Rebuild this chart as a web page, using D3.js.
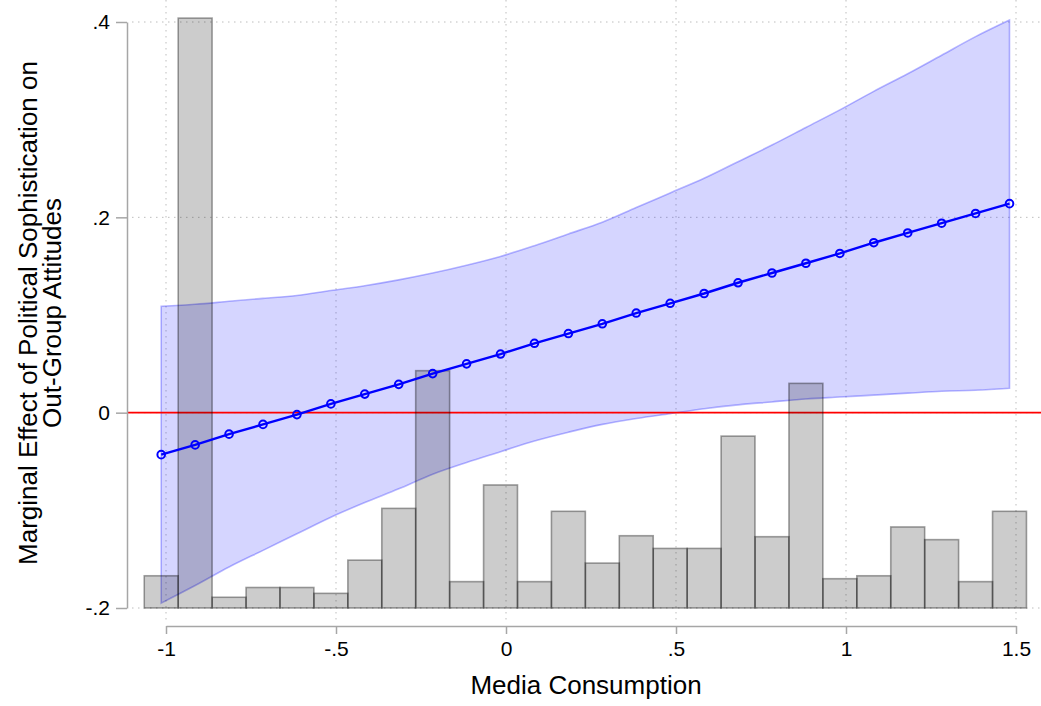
<!DOCTYPE html>
<meta charset="utf-8">
<html>
<head>
  <script src="https://d3js.org/d3.v7.min.js"></script>
  <style>
    body { margin: 0; background: #fff; }
    text { font-family: "Liberation Sans", Arial, sans-serif; fill: #000; }
  </style>
</head>
<body>
<div id="chart"></div>
<script>
// histogram of media consumption (bar tops read on the y scale, base at -.2)
var binStart = -1.064, binWidth = 0.0998;
var barTops = [-0.167, 0.404, -0.189, -0.179, -0.179, -0.185, -0.151, -0.098, 0.043, -0.173,
               -0.074, -0.173, -0.101, -0.154, -0.126, -0.139, -0.139, -0.024, -0.127, 0.030,
               -0.170, -0.167, -0.117, -0.130, -0.173, -0.101];

// marginal effect and 95% CI at the bin midpoints
var effect = [-0.043, -0.033, -0.022, -0.012, -0.002, 0.009, 0.019, 0.029, 0.040, 0.050,
              0.060, 0.071, 0.081, 0.091, 0.102, 0.112, 0.122, 0.133, 0.143, 0.153,
              0.163, 0.174, 0.184, 0.194, 0.204, 0.214];
var upper = [0.109, 0.111, 0.114, 0.117, 0.120, 0.125, 0.130, 0.136, 0.143, 0.151,
             0.160, 0.171, 0.183, 0.195, 0.210, 0.225, 0.240, 0.257, 0.274, 0.292,
             0.310, 0.329, 0.347, 0.366, 0.385, 0.402];
var lower = [-0.195, -0.177, -0.158, -0.141, -0.124, -0.107, -0.092, -0.078, -0.063, -0.051,
             -0.040, -0.029, -0.020, -0.012, -0.006, -0.001, 0.004, 0.008, 0.011, 0.014,
             0.016, 0.018, 0.020, 0.022, 0.023, 0.025];

var xTicks = [-1, -0.5, 0, 0.5, 1, 1.5];
var xTickLabels = ["-1", "-.5", "0", ".5", "1", "1.5"];
var yTicks = [-0.2, 0, 0.2, 0.4];
var yTickLabels = ["-.2", "0", ".2", ".4"];

var width = 1041, height = 706;

var svg = d3.select("#chart").append("svg")
    .attr("width", width)
    .attr("height", height);

var x = d3.scaleLinear().domain([-1, 1.5]).range([166, 1016]);
var y = d3.scaleLinear().domain([-0.2, 0.4]).range([608, 22]);

var mid = barTops.map(function(d, i) { return binStart + binWidth * (i + 0.5); });

// --grid--
var grid = svg.append("g")
    .attr("stroke", "#bdbdbd")
    .attr("stroke-width", 1)
    .attr("stroke-dasharray", "1.5,4.5");
grid.selectAll("line.v").data(xTicks).enter().append("line")
    .attr("x1", function(d) { return x(d); })
    .attr("x2", function(d) { return x(d); })
    .attr("y1", 0).attr("y2", 620);
grid.selectAll("line.h").data(yTicks).enter().append("line")
    .attr("x1", 132).attr("x2", width)
    .attr("y1", function(d) { return y(d); })
    .attr("y2", function(d) { return y(d); });

// --confidence band--
var band = d3.area()
    .curve(d3.curveCatmullRom)
    .x(function(d, i) { return x(mid[i]); })
    .y0(function(d, i) { return y(lower[i]); })
    .y1(function(d, i) { return y(upper[i]); });
svg.append("path")
    .datum(effect)
    .attr("d", band)
    .attr("fill", "rgba(0,0,255,0.165)")
    .attr("stroke", "rgba(0,0,255,0.28)")
    .attr("stroke-width", 1.6);

// zero line
svg.append("line")
    .attr("x1", 127).attr("x2", width)
    .attr("y1", y(0)).attr("y2", y(0))
    .attr("stroke", "#ff0000")
    .attr("stroke-width", 1.6);

// --histogram--
svg.append("g").selectAll("rect")
    .data(barTops)
    .enter().append("rect")
    .attr("x", function(d, i) { return x(binStart + binWidth * i); })
    .attr("width", x(binStart + binWidth) - x(binStart))
    .attr("y", function(d) { return y(d); })
    .attr("height", function(d) { return y(-0.2) - y(d); })
    .attr("fill", "rgba(0,0,0,0.2)")
    .attr("stroke", "rgba(0,0,0,0.36)")
    .attr("stroke-width", 1.6);

// --marginal effect line--
var line = d3.line()
    .x(function(d, i) { return x(mid[i]); })
    .y(function(d) { return y(d); });
svg.append("path")
    .datum(effect)
    .attr("d", line)
    .attr("fill", "none")
    .attr("stroke", "#0000ff")
    .attr("stroke-width", 2.4);
svg.append("g").selectAll("circle")
    .data(effect)
    .enter().append("circle")
    .attr("cx", function(d, i) { return x(mid[i]); })
    .attr("cy", function(d) { return y(d); })
    .attr("r", 3.8)
    .attr("fill", "none")
    .attr("stroke", "#0000ff")
    .attr("stroke-width", 2);

// --axes--
var axisColor = "#a6a6a6";
var yAxis = d3.axisLeft(y).tickValues(yTicks)
    .tickFormat(function(d, i) { return yTickLabels[i]; })
    .tickSize(11).tickPadding(6).tickSizeOuter(0);
var gy = svg.append("g").attr("transform", "translate(127,0)").call(yAxis);
var xAxis = d3.axisBottom(x).tickValues(xTicks)
    .tickFormat(function(d, i) { return xTickLabels[i]; })
    .tickSize(8).tickPadding(7).tickSizeOuter(0);
var gx = svg.append("g").attr("transform", "translate(0,626)").call(xAxis);

[gx, gy].forEach(function(g) {
  g.select(".domain").attr("stroke", axisColor).attr("stroke-width", 1.5);
  g.selectAll(".tick line").attr("stroke", axisColor).attr("stroke-width", 1.5);
  g.selectAll(".tick text")
    .style("font-family", "'Liberation Sans', Arial, sans-serif")
    .style("font-size", "21px")
    .attr("fill", "#000");
});

// titles
svg.append("text")
    .attr("x", 586).attr("y", 694)
    .attr("text-anchor", "middle")
    .style("font-size", "26px")
    .text("Media Consumption");

var yt = svg.append("text")
    .attr("transform", "translate(37,313) rotate(-90)")
    .attr("text-anchor", "middle")
    .style("font-size", "26px");
yt.append("tspan").attr("x", 0).attr("y", 0).text("Marginal Effect of Political Sophistication on");
yt.append("tspan").attr("x", 0).attr("y", 24).text("Out-Group Attitudes");
</script>
</body>
</html>
